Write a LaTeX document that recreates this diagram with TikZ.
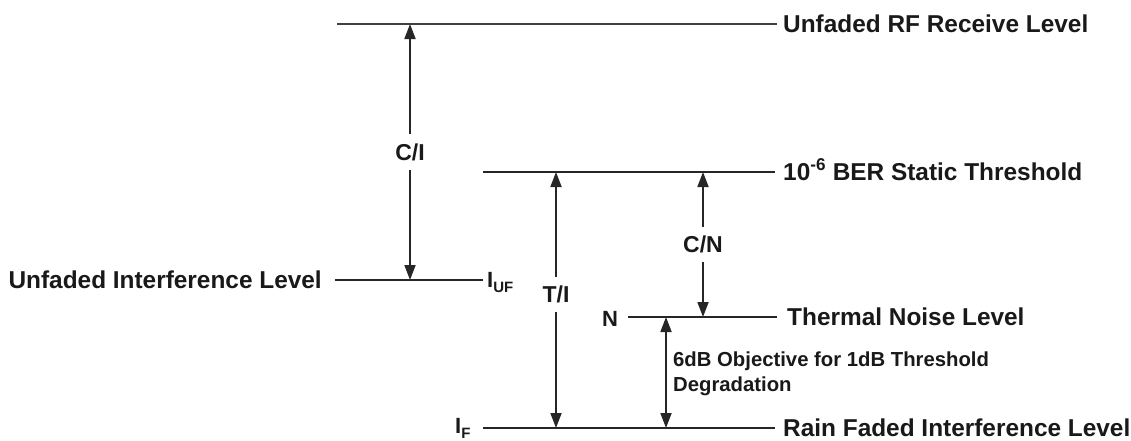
\documentclass[tikz,border=0pt]{standalone}
\usepackage{fontspec}
\setmainfont{Liberation Sans}
\usetikzlibrary{arrows.meta}
\begin{document}
\begin{tikzpicture}[x=1pt,y=-1pt,
  lvl/.style={line width=2pt, draw=black!85},
  dimarrow/.style={line width=1.8pt, draw=black!85,
     {Triangle[length=15pt,width=11pt]}-{Triangle[length=15pt,width=11pt]}},
  lab/.style={font=\fontsize{24.4}{28}\selectfont\bfseries, inner sep=0pt, text=black!90},
  dimlab/.style={font=\fontsize{23}{26}\selectfont\bfseries, fill=white, inner xsep=2pt, inner ysep=9pt, text=black!90},
  small/.style={font=\fontsize{20.3}{24}\selectfont\bfseries, inner sep=0pt, text=black!90},
  sym/.style={font=\fontsize{22}{24}\selectfont\bfseries, inner sep=0pt, text=black!90}
]
\useasboundingbox (0,0) rectangle (1131,440);

% level lines
\coordinate (l1a) at (337,24);  \coordinate (l1b) at (777,24);
\coordinate (l2a) at (483,172); \coordinate (l2b) at (775,172);
\coordinate (l3a) at (335,280); \coordinate (l3b) at (483,280);
\coordinate (l4a) at (628,317); \coordinate (l4b) at (777,317);
\coordinate (l5a) at (483,428); \coordinate (l5b) at (775,428);

\draw[lvl, line width=2.6pt, draw=black!75] (l1a) -- (l1b);
\draw[lvl] (l2a) -- (l2b);
\draw[lvl] (l3a) -- (l3b);
\draw[lvl] (l4a) -- (l4b);
\draw[lvl] (l5a) -- (l5b);

% labels
\node[lab, anchor=base west] (t1) at (783,32) {Unfaded RF Receive Level};
\node[lab, anchor=base west] (t2) at (783,180) {10\textsuperscript{-6} BER Static Threshold};
\node[lab, anchor=base east] (t3) at (322,288) {Unfaded Interference Level};
\node[lab, anchor=base west] (t4) at (787,325) {Thermal Noise Level};
\node[lab, anchor=base west] (t5) at (783,436) {Rain Faded Interference Level};

\node[sym, anchor=base west] (iuf) at (487,287) {I\raisebox{-5pt}{\fontsize{15}{15}\selectfont UF}};
\node[sym, anchor=base west] (nn) at (602,326) {N};
\node[sym, anchor=base west] (iff) at (455,433) {I\raisebox{-5pt}{\fontsize{15}{15}\selectfont F}};

\node[small, anchor=base west] (d1) at (673,366) {6dB Objective for 1dB Threshold};
\node[small, anchor=base west] (d2) at (673,391) {Degradation};

% arrow end points
\coordinate (ci1) at (410,24);  \coordinate (ci2) at (410,280);
\coordinate (ti1) at (556,172); \coordinate (ti2) at (556,428);
\coordinate (cn1) at (703,172); \coordinate (cn2) at (703,317);
\coordinate (sd1) at (666,317); \coordinate (sd2) at (666,428);

\draw[dimarrow] (ci1) -- node[dimlab, pos=0.5] (cilab) {C/I} (ci2);
\draw[dimarrow] (ti1) -- node[dimlab, pos=0.48] (tilab) {T/I} (ti2);
\draw[dimarrow] (cn1) -- node[dimlab, pos=0.5] (cnlab) {C/N} (cn2);
\draw[dimarrow] (sd1) -- (sd2);
\end{tikzpicture}
\end{document}
